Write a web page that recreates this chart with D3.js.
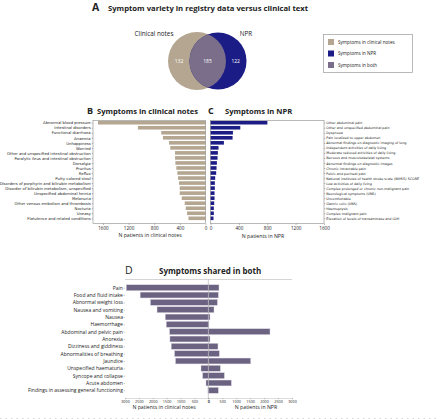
<!DOCTYPE html>
<html><head><meta charset="utf-8">
<script src="https://cdn.jsdelivr.net/npm/d3@7"></script>
<style>body{margin:0;background:#fff} svg{display:block} text{font-family:"Open Sans",sans-serif;fill:#222}</style>
</head><body><svg id="c" width="440" height="419"></svg>
<script>
// ---------- data ----------
const vennSets = ["Clinical notes", "NPR"];
const vennCounts = [132, 185, 122]; // only notes, both, only NPR
const legendLabels = ["Symptoms in clinical notes", "Symptoms in NPR", "Symptoms in both"];

const notesCategories = ["Abnormal blood pressure","Intestinal disorders","Functional diarrhoea","Anaemia","Unhappiness","Worried","Other and unspecified intestinal obstruction","Paralytic ileus and intestinal obstruction","Dorsalgia","Pruritus","Reflux","Putty colored stool","Disorders of porphyrin and bilirubin metabolism","Disorder of bilirubin metabolism, unspecified","Unspecified abdominal hernia","Melanuria","Other venous embolism and thrombosis","Nocturia","Uneasy","Flatulence and related conditions"];
const notesValues = [1677,1055,690,664,569,549,475,475,470,455,439,428,413,402,402,371,324,308,287,266];

const nprCategories = ["Other abdominal pain","Other and unspecified abdominal pain","Dyspnoea","Pain localized to upper abdomen","Abnormal findings on diagnostic imaging of lung","Independent activities of daily living","Moderate reduced activities of daily living","Nervous and musculoskeletal systems","Abnormal findings on diagnostic images","Chronic intractable pain","Pelvic and perineal pain","National institutes of health stroke scale (NIHSS) SCORE","Low activities of daily living","Complex prolonged or chronic non-malignant pain","Neurological symptoms (UNS)","Uncomfortable","Gastric colic (UNS)","Haemoptysis","Complex malignant pain","Elevation of levels of transaminase and LDH"];
const nprValues = [802,420,316,311,189,113,104,99,90,85,80,66,61,61,57,57,52,47,47,42];

const sharedCategories = ["Pain","Food and fluid intake","Abnormal weight loss","Nausea and vomiting","Nausea","Haemorrhage","Abdominal and pelvic pain","Anorexia","Dizziness and giddiness","Abnormalities of breathing","Jaundice","Unspecified haematuria","Syncope and collapse","Acute abdomen","Findings in assessing general functioning"];
const sharedNotes = [2952,2452,2083,1845,1548,1512,1393,1381,1333,1214,1179,262,202,83,12];
const sharedNpr = [382,358,323,203,60,24,2210,60,346,394,1517,430,573,824,358];

const ticksBC = [0,400,800,1200,1600];
const ticksD = [0,500,1000,1500,2000,2500,3000];

// ---------- style ----------
const cNotes = "#b4a690", cNpr = "#1c1c86", cBoth = "#7a6e8b", cBar = "#6c6282";
const fmt = d3.format("d");
const svg = d3.select("#c");

// ---------- Panel A ----------
svg.append("text").attr("x",92).attr("y",11).attr("font-size",10.5).attr("font-weight",700).text("A");
svg.append("text").attr("x",108).attr("y",11).attr("font-size",7.7).attr("font-weight",700).text("Symptom variety in registry data versus clinical text");

const rV = d3.scaleSqrt().domain([0, vennCounts[0]+vennCounts[1]]).range([0, 29]);
const r1 = rV(vennCounts[0]+vennCounts[1]), r2 = rV(vennCounts[1]+vennCounts[2]);
const vx = d3.scaleLinear().domain([0,1]).range([197,218]);
const cy = 61;
const defs = svg.append("defs");
defs.append("clipPath").attr("id","clipL").append("circle").attr("cx",vx(0)).attr("cy",cy).attr("r",r1);
svg.append("circle").attr("cx",vx(0)).attr("cy",cy).attr("r",r1).attr("fill",cNotes);
svg.append("circle").attr("cx",vx(1)).attr("cy",cy).attr("r",r2).attr("fill",cNpr);
svg.append("circle").attr("cx",vx(1)).attr("cy",cy).attr("r",r2).attr("fill",cBoth).attr("clip-path","url(#clipL)");
const numX = [vx(0)-r1*0.62, (vx(0)+vx(1))/2, vx(1)+r2*0.62];
svg.selectAll("text.vn").data(vennCounts).join("text").attr("class","vn")
  .attr("x",(d,i)=>numX[i]).attr("y",cy+2).attr("text-anchor","middle")
  .attr("font-size",5).style("fill","#fff").text(d=>d);
svg.append("text").attr("x",154).attr("y",36).attr("text-anchor","middle").attr("font-size",6.3).text(vennSets[0]);
svg.append("text").attr("x",246).attr("y",36).attr("text-anchor","middle").attr("font-size",6.3).text(vennSets[1]);

// legend
svg.append("rect").attr("x",323.5).attr("y",34.5).attr("width",89).attr("height",38).attr("fill","#fff").attr("stroke","#9a9a9a").attr("stroke-width",0.7);
const lg = svg.selectAll("g.lg").data(legendLabels).join("g").attr("class","lg")
  .attr("transform",(d,i)=>`translate(328,${[42,53.5,65][i]})`);
lg.append("rect").attr("x",0).attr("y",-3).attr("width",6).attr("height",6).attr("fill",(d,i)=>[cNotes,cNpr,cBoth][i]);
lg.append("text").attr("x",10).attr("y",1.8).attr("font-size",4.6).text(d=>d);

// ---------- Panel B ----------
const rowY = [122.7, 218.3];
svg.append("text").attr("x",87).attr("y",114).attr("font-size",9).attr("font-weight",700).text("B");
svg.append("text").attr("x",97).attr("y",114).attr("font-size",7.6).attr("font-weight",700).text("Symptoms in clinical notes");
svg.append("text").attr("x",208).attr("y",114).attr("font-size",9).attr("font-weight",700).text("C");
svg.append("text").attr("x",225).attr("y",114).attr("font-size",7.6).attr("font-weight",700).text("Symptoms in NPR");

const xB = d3.scaleLinear().domain([0,1755]).range([205.5,93]);
const yB = d3.scalePoint().domain(notesCategories).range(rowY);
const gB = svg.append("g");
gB.selectAll("rect").data(notesValues).join("rect")
  .attr("x",d=>xB(d)).attr("width",d=>xB(0)-xB(d))
  .attr("y",(d,i)=>yB(notesCategories[i])-1.8).attr("height",3.6).attr("fill",cNotes);
svg.append("rect").attr("x",93).attr("y",120.5).attr("width",112.5).attr("height",103).attr("fill","none").attr("stroke","#777").attr("stroke-width",0.5);
const axB = svg.append("g").attr("transform","translate(0,223.5)").call(d3.axisBottom(xB).tickValues(ticksBC).tickFormat(fmt).tickSize(1.5).tickPadding(1.5));
const axBl = svg.append("g").attr("transform","translate(93,0)").call(d3.axisLeft(yB).tickSize(1.3).tickPadding(1));
axBl.selectAll("text").attr("font-size",3.8).style("font-family","DejaVu Sans");
svg.append("text").attr("x",150).attr("y",237).attr("text-anchor","middle").attr("font-size",5.2).text("N patients in clinical notes");

// ---------- Panel C ----------
const xC = d3.scaleLinear().domain([0,1600]).range([210.5,324]);
const yC = d3.scalePoint().domain(nprCategories).range(rowY);
svg.append("g").selectAll("rect").data(nprValues).join("rect")
  .attr("x",xC(0)).attr("width",d=>xC(d)-xC(0))
  .attr("y",(d,i)=>yC(nprCategories[i])-1.8).attr("height",3.6).attr("fill",cNpr);
svg.append("rect").attr("x",210.5).attr("y",120.5).attr("width",113.5).attr("height",103).attr("fill","none").attr("stroke","#777").attr("stroke-width",0.5);
const axC = svg.append("g").attr("transform","translate(0,223.5)").call(d3.axisBottom(xC).tickValues(ticksBC).tickFormat(fmt).tickSize(1.5).tickPadding(1.5));
const axCr = svg.append("g").attr("transform","translate(324,0)").call(d3.axisRight(yC).tickSize(1.3).tickPadding(1));
axCr.selectAll("text").attr("font-size",3.3).style("font-family","DejaVu Sans");
svg.append("text").attr("x",263).attr("y",237.5).attr("text-anchor","middle").attr("font-size",5.2).text("N patients in NPR");
[axB,axC].forEach(a=>a.selectAll("text").attr("font-size",4.6));
[axB,axC,axBl,axCr].forEach(a=>{a.select(".domain").remove();a.selectAll("line").attr("stroke","#555").attr("stroke-width",0.4);});

// ---------- Panel D ----------
svg.append("text").attr("x",125).attr("y",273.5).attr("font-size",10.5).text("D");
svg.append("text").attr("x",159).attr("y",273.5).attr("font-size",8).attr("font-weight",700).text("Symptoms shared in both");
const xDL = d3.scaleLinear().domain([0,3000]).range([208.3,125]);
const xDR = d3.scaleLinear().domain([0,3000]).range([208.3,292]);
const yD = d3.scalePoint().domain(sharedCategories).range([287.7,390.3]);
const gD = svg.append("g");
gD.selectAll("rect.l").data(sharedNotes).join("rect").attr("class","l")
  .attr("x",d=>xDL(d)).attr("width",d=>xDL(0)-xDL(d))
  .attr("y",(d,i)=>yD(sharedCategories[i])-2.9).attr("height",5.8)
  .attr("fill",cBar).attr("stroke","#cfcad8").attr("stroke-width",0.4);
gD.selectAll("rect.r").data(sharedNpr).join("rect").attr("class","r")
  .attr("x",xDR(0)).attr("width",d=>xDR(d)-xDR(0))
  .attr("y",(d,i)=>yD(sharedCategories[i])-2.9).attr("height",5.8)
  .attr("fill",cBar).attr("stroke","#cfcad8").attr("stroke-width",0.4);
svg.append("line").attr("x1",125).attr("x2",292).attr("y1",279.5).attr("y2",279.5).attr("stroke","#b8b8b8").attr("stroke-width",0.6);
svg.append("line").attr("x1",xDL(0)).attr("x2",xDL(0)).attr("y1",279.5).attr("y2",398).attr("stroke","#a8a8a8").attr("stroke-width",0.6);
const axDL = svg.append("g").attr("transform","translate(0,398)").call(d3.axisBottom(xDL).tickValues(ticksD).tickFormat(fmt).tickSize(1.2).tickPadding(1.2));
const axDR = svg.append("g").attr("transform","translate(0,398)").call(d3.axisBottom(xDR).tickValues(ticksD).tickFormat(fmt).tickSize(1.2).tickPadding(1.2));
const axDy = svg.append("g").attr("transform","translate(125,0)").call(d3.axisLeft(yD).tickSize(1.3).tickPadding(0.8));
axDy.select(".domain").remove();
axDy.selectAll("text").attr("font-size",5);
[axDL,axDR].forEach(a=>{a.selectAll("text").attr("font-size",3.8);a.select(".domain").attr("stroke","#bbb").attr("stroke-width",0.5);});
[axDL,axDR,axDy].forEach(a=>a.selectAll("line").attr("stroke","#777").attr("stroke-width",0.4));
svg.append("text").attr("x",164).attr("y",409).attr("text-anchor","middle").attr("font-size",5.2).text("N patients in clinical notes");
svg.append("text").attr("x",256).attr("y",409).attr("text-anchor","middle").attr("font-size",5.2).text("N patients in NPR");
svg.append("line").attr("x1",0).attr("x2",440).attr("y1",418.5).attr("y2",418.5).attr("stroke","#c8c8c8").attr("stroke-width",0.8).attr("stroke-dasharray","1.5,4");
</script></body></html>
